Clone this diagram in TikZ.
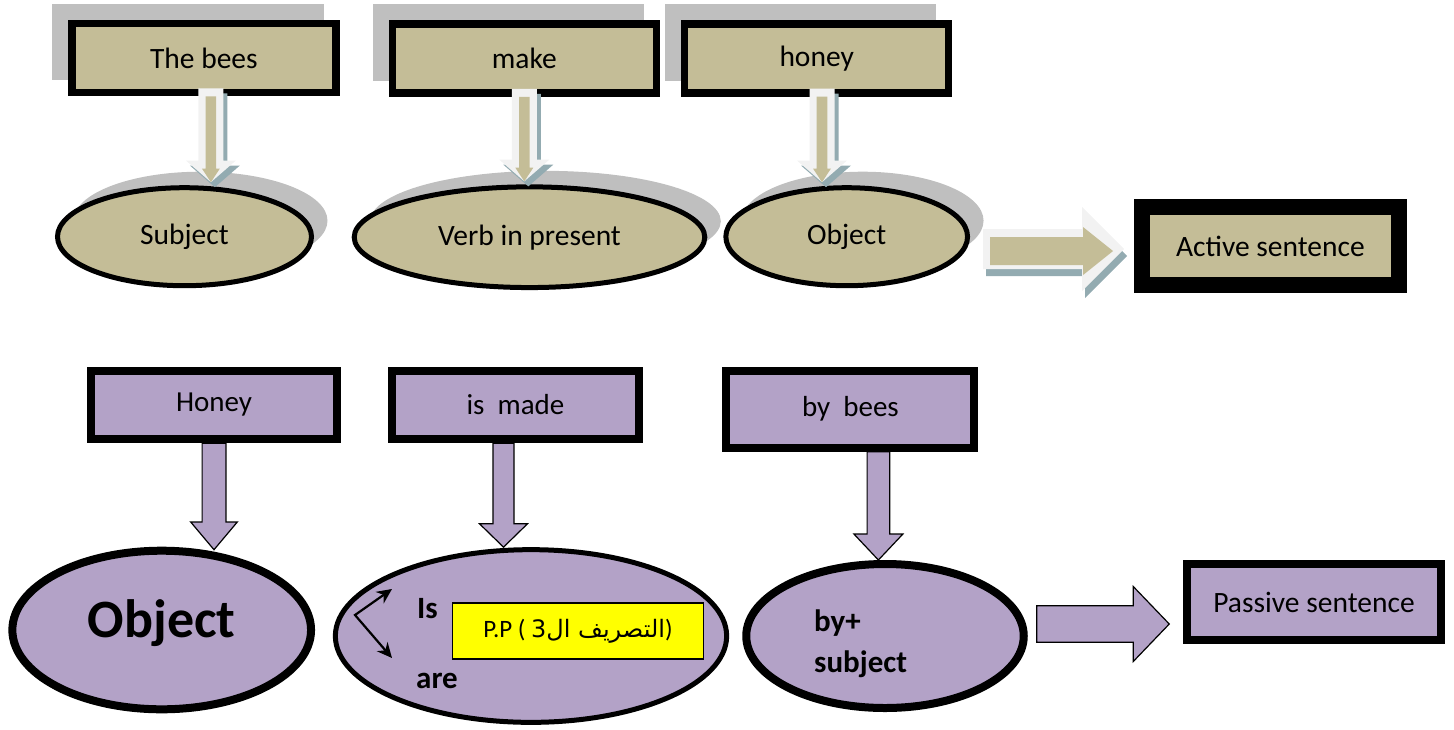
\documentclass[tikz,border=0pt]{standalone}
\usepackage{fontspec}
\setmainfont{Carlito}
\newfontfamily\arabicfont[Script=Arabic]{DejaVu Sans}
\TeXXeTstate=1
\usepackage{tikz}
\usetikzlibrary{positioning,arrows.meta,calc,shapes.geometric,shadows,backgrounds}
\definecolor{beetan}{HTML}{C4BD97}
\definecolor{beepurple}{HTML}{B3A2C7}
\definecolor{shadegray}{HTML}{BFBFBF}
\definecolor{bevelwhite}{HTML}{F2F2F2}
\definecolor{bevelteal}{HTML}{93ABB1}
\definecolor{ppyellow}{HTML}{FFFF00}

% block arrow from #2 to tip #3 (shaft half width, head half width, head length)
\newcommand{\blockarrow}[6][]{%
  \coordinate (ba-h) at ($(#3)!#6!(#2)$);
  \path[#1] ($(#2)!#4!90:(#3)$) -- ($(ba-h)!#4!90:(#3)$) -- ($(ba-h)!#5!90:(#3)$)
    -- (#3) -- ($(ba-h)!#5!-90:(#3)$) -- ($(ba-h)!#4!-90:(#3)$)
    -- ($(#2)!#4!-90:(#3)$) -- cycle;}
% bevelled arrow: outer start/tip, inner start/tip, shade shift, outer sizes, inner sizes
\newcommand{\bevelarrow}[7]{%
  \begin{scope}[transform canvas={shift={#5}}]
    \blockarrow[bevelshade]{#1}{#2}#6
  \end{scope}
  \blockarrow[bevelout]{#1}{#2}#6
  \blockarrow[bevelin]{#3}{#4}#7}

\begin{document}
\begin{tikzpicture}[
    x=1pt, y=-1pt,
    >=Stealth,
    tanbox/.style={draw, line width=7.5pt, fill=beetan, minimum width=264pt,
                   minimum height=69pt, font=\fontsize{29.5}{34}\selectfont,
                   drop shadow={shadow xshift=-16pt, shadow yshift=16pt,
                                fill=shadegray, draw=shadegray, opacity=1}},
    tanell/.style={ellipse, draw, line width=5pt, fill=beetan, minimum height=98pt,
                   font=\fontsize{29.5}{34}\selectfont,
                   drop shadow={shadow xshift=16pt, shadow yshift=16pt,
                                fill=shadegray, opacity=1}},
    purpbox/.style={draw, line width=8pt, fill=beepurple, minimum width=246pt,
                    minimum height=69pt, font=\fontsize{29}{34}\selectfont},
    purpell/.style={ellipse, draw, line width=8pt, fill=beepurple},
    boldtext/.style={font=\bfseries\fontsize{31}{36}\selectfont, anchor=base west,
                     inner sep=0pt},
    bevelout/.style={fill=bevelwhite},
    bevelin/.style={fill=beetan},
    bevelshade/.style={fill=bevelteal},
    purparrow/.style={fill=beepurple, draw=black, line width=1.2pt},
]
\useasboundingbox (0,0) rectangle (1454,729);

% active sentence
\node[tanbox] (tb1) at (203.9,58) {The bees};
\node[tanbox] (tb2) at (524.3,58.5) {make};
\node[tanbox] (tb3) at (816.7,58.3) {honey};

\node[tanell, minimum width=254pt] (te1) at (184.5,236.7) {Subject};
\node[tanell, minimum width=350.6pt, minimum height=100.7pt] (te2) at (529.5,237.2)
    {Verb in present};
\node[tanell, minimum width=241.7pt] (te3) at (846.7,236.7) {Object};

\node[draw, line width=16pt, fill=beetan, minimum width=256.7pt, minimum height=77.4pt,
      font=\fontsize{29.5}{34}\selectfont] (act) at (1270.4,246) {Active sentence};

% passive sentence
\node[purpbox, minimum width=245.4pt, minimum height=68.6pt] (pb1) at (214,405) {Honey};
\node[purpbox, minimum width=247pt, minimum height=68.6pt] (pb2) at (515.5,405) {is~~made};
\node[purpbox, minimum width=248pt, minimum height=77pt] (pb3) at (850.4,409.2) {by~~bees};

\node[purpell, minimum width=298.7pt, minimum height=158.6pt, text depth=23pt,
      font=\bfseries\fontsize{54}{60}\selectfont] (pe1) at (161.7,630) {Object};
\node[purpell, line width=5pt, minimum width=391.3pt, minimum height=172.7pt]
    (pe2) at (531,636) {};
\node[purpell, minimum width=277.5pt, minimum height=144pt] (pe3) at (885,636) {};

\node[draw, line width=8pt, fill=beepurple, minimum width=253.5pt, minimum height=75.5pt,
      font=\fontsize{29.5}{34}\selectfont] (pas) at (1314,602) {Passive sentence};

% inside the middle ellipse
\node[boldtext] (is) at ($(pe2.center)+(-114,-18)$) {Is};
\node[boldtext] (are) at ($(pe2.center)+(-115,52)$) {are};
\node[draw, line width=1.2pt, fill=ppyellow, minimum width=251pt, minimum height=56pt,
      font=\fontsize{25}{30}\selectfont] (pp) at ($(pe2.center)+(47,-5)$)
    {P.P ( {\arabicfont\fontsize{24}{29}\selectfont\beginR التصريف ال3\endR})};
\coordinate (vtx) at ($(pe2.center)+(-176,-21)$);
\coordinate (isend) at ($(pe2.center)+(-139,-47)$);
\coordinate (areend) at ($(pe2.center)+(-139,22)$);
\draw[<->, line width=2.2pt, >={Stealth[length=15pt, width=14pt]}]
    (isend) -- (vtx) -- (areend);

\node[boldtext] (byplus) at ($(pe3.center)+(-71,-5)$) {by+};
\node[boldtext] (subj) at ($(pe3.center)+(-71,36)$) {subject};

% Arrows: words -> parts (active)
\coordinate (ta1w) at ($(tb1.south)+(7,-8)$);
\coordinate (ta1t) at ($(tb1.south)+(7,0)$);
\coordinate (ta1e) at ($(ta1w |- te1.north)+(0,-3)$);
\bevelarrow{ta1w}{ta1e}{ta1t}{ta1e}{(4,5)}{{12.5pt}{25pt}{21.7pt}}{{5.3pt}{9pt}{13.7pt}}
\coordinate (ta2w) at ($(tb2.south)+(0,-8)$);
\coordinate (ta2t) at (tb2.south);
\coordinate (ta2e) at ($(ta2w |- te2.north)+(0,-3)$);
\bevelarrow{ta2w}{ta2e}{ta2t}{ta2e}{(4,5)}{{12.5pt}{25pt}{21.7pt}}{{5.3pt}{9pt}{13.7pt}}
\coordinate (ta3w) at ($(tb3.south)+(5.3,-8)$);
\coordinate (ta3t) at ($(tb3.south)+(5.3,0)$);
\coordinate (ta3e) at ($(ta3w |- te3.north)+(0,-3)$);
\bevelarrow{ta3w}{ta3e}{ta3t}{ta3e}{(4,5)}{{12.5pt}{25pt}{21.7pt}}{{5.3pt}{9pt}{13.7pt}}

% Arrow: object -> active sentence
\coordinate (ha1) at ($(te3.east |- act.west)+(13,3)$);
\coordinate (ha2) at ($(act.west)+(-10,3)$);
\coordinate (hi1) at ($(te3.east |- act.west)+(20,5)$);
\coordinate (hi2) at ($(act.west)+(-21,5)$);
\bevelarrow{ha1}{ha2}{hi1}{hi2}{(3,7)}{{20pt}{42pt}{42pt}}{{14pt}{24pt}{30pt}}

% Arrows: words -> parts (passive)
\coordinate (pa1) at (pb1.south);
\coordinate (pa1e) at ($(pa1 |- pe1.north)+(0,3)$);
\blockarrow[purparrow]{pa1}{pa1e}{11.9pt}{23.3pt}{27.7pt}
\coordinate (pa2) at ($(pb2.south)+(-12,0)$);
\coordinate (pa2e) at (pa2 |- pe2.north);
\blockarrow[purparrow]{pa2}{pa2e}{10.5pt}{24pt}{23.4pt}
\coordinate (pa3) at ($(pb3.south)+(28,0)$);
\coordinate (pa3e) at (pa3 |- pe3.north);
\blockarrow[purparrow]{pa3}{pa3e}{11.3pt}{24.5pt}{26pt}

% Arrow: by+ subject -> passive sentence
\coordinate (ph1) at ($(pe3.east)+(9,-12)$);
\coordinate (ph2) at ($(ph1 -| pas.west)+(-14,0)$);
\blockarrow[purparrow]{ph1}{ph2}{18.3pt}{37.5pt}{36pt}

\end{tikzpicture}
\end{document}
